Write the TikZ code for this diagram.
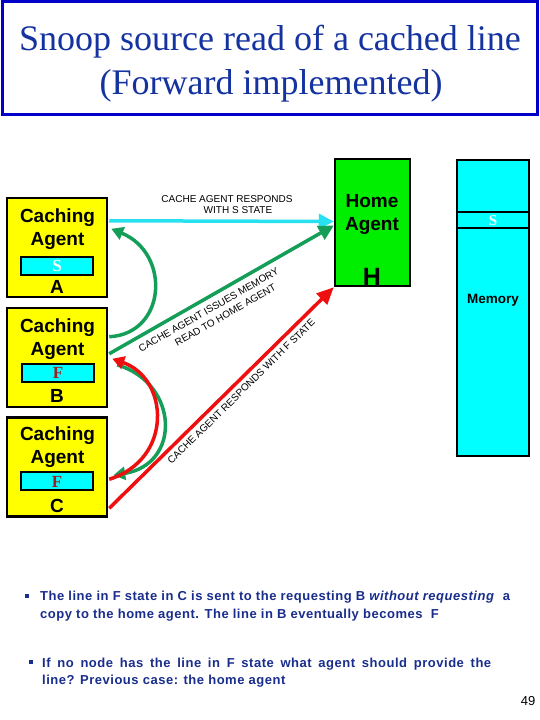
\documentclass[tikz,border=0pt]{standalone}
\usepackage{fontspec}
\setmainfont{Liberation Sans}
\newfontfamily\timesfont{Liberation Serif}
\usetikzlibrary{arrows.meta,calc}
\definecolor{titleblue}{RGB}{20,50,160}
\definecolor{frameblue}{RGB}{0,0,200}
\definecolor{boxyellow}{RGB}{255,255,0}
\definecolor{barcyan}{RGB}{0,255,255}
\definecolor{homegreen}{RGB}{0,238,0}
\definecolor{arrgreen}{RGB}{20,158,88}
\definecolor{arrred}{RGB}{238,16,16}
\definecolor{arrcyan}{RGB}{40,225,240}
\definecolor{fred}{RGB}{160,30,30}
\definecolor{textblue}{RGB}{25,45,140}
\begin{document}
\begin{tikzpicture}[x=1pt,y=-1pt,
  agentbox/.style={draw=black,line width=2.5pt,fill=boxyellow,minimum width=100pt,minimum height=99pt,inner sep=0pt},
  statebar/.style={draw=black,line width=2pt,fill=barcyan,minimum width=72pt,minimum height=18pt,inner sep=0pt},
  bigtext/.style={font=\fontsize{19}{19}\selectfont\bfseries,inner sep=0pt,anchor=base},
  stateletter/.style={font=\fontsize{17}{17}\selectfont\timesfont\bfseries,inner sep=0pt},
  smalllabel/.style={font=\fontsize{10}{13}\selectfont,inner sep=0pt,anchor=base},
  bodytext/.style={font=\fontsize{13}{15}\selectfont\bfseries\addfontfeatures{LetterSpace=4},text=textblue,inner sep=0pt,anchor=base west},
  bulletbox/.style={fill=textblue,minimum width=4pt,minimum height=4pt,inner sep=0pt},
  conn/.style={line width=3.5pt},
  bigtip/.style={-{Triangle[length=15pt,width=15pt]}},
  smalltip/.style={-{Triangle[length=12pt,width=13pt]}}
]
\useasboundingbox (0,0) rectangle (540,720);
\fill[white] (0,0) rectangle (540,720);

% title
\node[draw=frameblue,line width=3pt,minimum width=535pt,minimum height=113pt,inner sep=0pt] (T) at (269.5,58) {};
\node[font=\fontsize{36}{36}\selectfont\timesfont,text=titleblue,inner sep=0pt,anchor=base] (T1) at (270,50) {Snoop source read of a cached line};
\node[font=\fontsize{36}{36}\selectfont\timesfont,text=titleblue,inner sep=0pt,anchor=base] (T2) at (271,94) {(Forward implemented)};

% caching agents
\node[agentbox] (A) at (57,247.5) {};
\node[agentbox] (B) at (57,357.5) {};
\node[agentbox] (C) at (57,467) {};
\node[bigtext] (A1) at (57.5,222) {Caching};
\node[bigtext] (A2) at (57.5,245) {Agent};
\node[statebar] (Abar) at (57,265.5) {};
\node[stateletter,text=white] (As) at (57,265.5) {S};
\node[bigtext] (Al) at (57,293) {A};
\node[bigtext] (B1) at (57.5,332) {Caching};
\node[bigtext] (B2) at (57.5,355) {Agent};
\node[statebar] (Bbar) at (58,372.5) {};
\node[stateletter,text=fred] (Bs) at (58,373) {F};
\node[bigtext] (Bl) at (57,402) {B};
\node[bigtext] (C1) at (57.5,440) {Caching};
\node[bigtext] (C2) at (57.5,463) {Agent};
\node[statebar] (Cbar) at (57,481) {};
\node[stateletter,text=fred] (Cs) at (57,481.5) {F};
\node[bigtext] (Cl) at (57,512) {C};

% home agent
\node[draw=black,line width=2.5pt,fill=homegreen,minimum width=75pt,minimum height=127pt,inner sep=0pt] (H) at (372.5,222.5) {};
\node[bigtext] (H1) at (372,207) {Home};
\node[bigtext] (H2) at (372,230) {Agent};
\node[font=\fontsize{25}{25}\selectfont\bfseries,inner sep=0pt,anchor=base] (Hl) at (372,285.5) {H};

% memory
\node[draw=black,line width=2.5pt,fill=barcyan,minimum width=72pt,minimum height=296pt,inner sep=0pt] (M) at (493,308) {};
\draw[line width=2pt] ($(M.north west)+(0,53)$) coordinate (m1) -- ($(M.north east)+(0,53)$) coordinate (m2);
\draw[line width=2pt] ($(M.north west)+(0,69)$) coordinate (m3) -- ($(M.north east)+(0,69)$) coordinate (m4);
\node[font=\fontsize{15}{15}\selectfont\timesfont\bfseries,text=white,inner sep=0pt] (Ms) at (493,221) {S};
\node[font=\fontsize{13.5}{13.5}\selectfont\bfseries,inner sep=0pt,anchor=base] (Ml) at (493,303) {Memory};

% connectors
\draw[conn,arrcyan,bigtip] ($(A.north east)+(1,24)$) -- ($(H.west)+(0,-1)$);
\draw[conn,arrgreen,bigtip] ($(B.north east)+(1,47)$) -- ($(H.west)+(0,3)$);
\draw[conn,arrgreen,smalltip] ($(B.north east)+(1,30)$) .. controls +(57,-3) and +(60,25) .. ($(A.north east)+(3,32)$);
\draw[conn,arrgreen,smalltip] ($(B.north east)+(9,58)$) .. controls +(62,19) and +(68,-11) .. ($(C.north east)+(5,59)$);
\draw[conn,arrred,smalltip] ($(C.north east)+(1,63)$) .. controls +(64,-20) and +(57,20) .. ($(B.north east)+(4,52)$);
\draw[conn,arrred,-{Triangle[length=17pt,width=15pt]}] ($(C.north east)+(1,92)$) -- (H.south west);

% connector labels
\node[smalllabel] (L1) at (227,202) {CACHE AGENT RESPONDS};
\node[smalllabel] (L2) at (238,213) {WITH S STATE};
\node[smalllabel,rotate=29.7,anchor=base west] (L3) at (141,352.3) {\begin{tabular}[t]{@{}l@{}}CACHE AGENT ISSUES MEMORY\\\hspace*{34.4pt}READ TO HOME AGENT\end{tabular}};
\node[smalllabel,rotate=44.5] (L5) at (243.7,393.9) {CACHE AGENT RESPONDS WITH F STATE};

% bottom text
\node[bulletbox] (b1) at (26.5,596) {};
\node[bodytext] (P1) at (40,600) {The line in F state in C is sent to the requesting B \textit{without requesting}\ \ a};
\node[bodytext] (P2) at (40,618) {copy to the home agent. The line in B eventually becomes\ \ F};
\node[bulletbox] (b2) at (31,662) {};
\node[bodytext] (P3) at (42,667) {\makebox[449pt][s]{If no node has the line in F state what agent should provide the}};
\node[bodytext] (P4) at (42,684) {line? Previous case: the home agent};
\node[font=\fontsize{13}{13}\selectfont,inner sep=0pt,anchor=base] (pg) at (528,705.5) {49};
\end{tikzpicture}
\end{document}
